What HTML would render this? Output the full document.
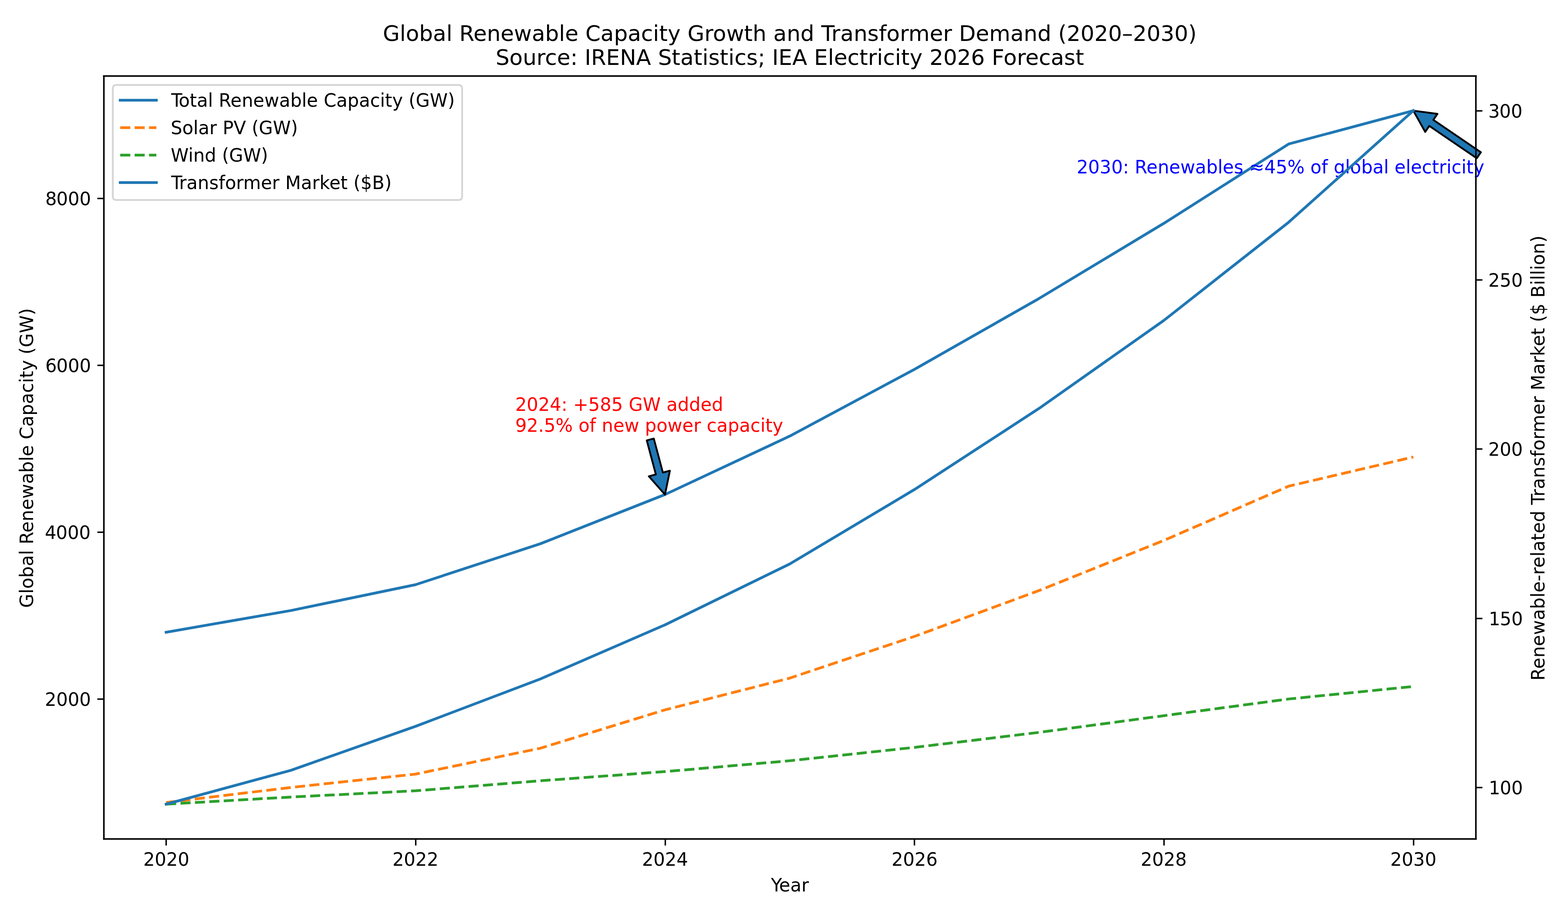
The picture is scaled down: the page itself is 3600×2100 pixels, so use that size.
<!DOCTYPE html>
<html lang="en">
<head>
<meta charset="utf-8">
<title>Global Renewable Capacity Growth and Transformer Demand (2020–2030)</title>
<style>
html, body { margin: 0; padding: 0; background: #ffffff; }
body { width: 3600px; height: 2100px; }
svg { display: block; }
text { font-family: "DejaVu Sans", "Liberation Sans", sans-serif; fill: #000000; font-kerning: normal; font-variant-ligatures: none; text-rendering: auto; }
.t10 { font-size: 41.667px; }
.t12 { font-size: 50px; }
.tick { fill: none; stroke: #000000; stroke-width: 3.333; stroke-linecap: butt; }
.line { fill: none; stroke-width: 6.25; stroke-linejoin: round; }
.solid { stroke-linecap: square; }
.dash { stroke-linecap: butt; stroke-dasharray: 23.125 10; }
.c0 { stroke: #1f77b4; } .c1 { stroke: #ff7f0e; } .c2 { stroke: #2ca02c; }
.arrow { fill: #1f77b4; stroke: #000000; stroke-width: 4.167; stroke-linejoin: round; stroke-linecap: round; }
</style>
</head>
<body>
<svg width="3600" height="2100" viewBox="0 0 3600 2100" role="img" aria-label="Global Renewable Capacity Growth and Transformer Demand (2020–2030)">
<rect width="3600" height="2100" fill="#ffffff"/>
<defs><clipPath id="axclip"><rect x="238.208" y="174.4" width="3149.833" height="1750.767"/></clipPath></defs>
<g id="axis-bottom">
<line class="tick" x1="381.5" y1="1925.5" x2="381.5" y2="1940.5"/>
<line class="tick" x1="954.5" y1="1925.5" x2="954.5" y2="1940.5"/>
<line class="tick" x1="1527.5" y1="1925.5" x2="1527.5" y2="1940.5"/>
<line class="tick" x1="2099.5" y1="1925.5" x2="2099.5" y2="1940.5"/>
<line class="tick" x1="2672.5" y1="1925.5" x2="2672.5" y2="1940.5"/>
<line class="tick" x1="3245.5" y1="1925.5" x2="3245.5" y2="1940.5"/>
<text id="xt0" class="t10" x="329 355.375 381.875 408.25" y="0" transform="translate(0 1987) scale(1 1.02)">2020</text>
<text id="xt1" class="t10" x="901 927.375 953.875 980.25" y="0" transform="translate(0 1987) scale(1 1.02)">2022</text>
<text id="xt2" class="t10" x="1474 1500.375 1526.875 1553.25" y="0" transform="translate(0 1987) scale(1 1.02)">2024</text>
<text id="xt3" class="t10" x="2047 2073.375 2099.875 2126.25" y="0" transform="translate(0 1987) scale(1 1.02)">2026</text>
<text id="xt4" class="t10" x="2619 2645.375 2671.875 2698.25" y="0" transform="translate(0 1987) scale(1 1.02)">2028</text>
<text id="xt5" class="t10" x="3192 3218.375 3244.875 3271.5" y="0" transform="translate(0 1987) scale(1 1.02)">2030</text>
<text id="xlabel" class="t10" x="1770 1788.875 1814.5 1840" y="0" transform="translate(0 2046) scale(1 1.02)">Year</text>
</g>
<g id="axis-left">
<line class="tick" x1="223.5" y1="1604.5" x2="238.5" y2="1604.5"/>
<line class="tick" x1="223.5" y1="1221.5" x2="238.5" y2="1221.5"/>
<line class="tick" x1="223.5" y1="838.5" x2="238.5" y2="838.5"/>
<line class="tick" x1="223.5" y1="455.5" x2="238.5" y2="455.5"/>
<text id="yl0" class="t10" x="103 129.375 155.875 182.375" y="0" transform="translate(0 1620) scale(1 1.02)">2000</text>
<text id="yl1" class="t10" x="103 128.5 155 181.5" y="0" transform="translate(0 1237) scale(1 1.02)">4000</text>
<text id="yl2" class="t10" x="104 129.5 156 182.5" y="0" transform="translate(0 854) scale(1 1.02)">6000</text>
<text id="yl3" class="t10" x="104 129.625 156.125 182.625" y="0" transform="translate(0 471) scale(1 1.02)">8000</text>
<text id="ylabel" class="t10" x="0 32.25 43.75 69.125 95.5 121 132.5 145.75 172.875 198.5 224.875 250.5 284.5 310 336.375 347.875 373.5 386.75 415.875 441.375 467.75 493.25 516.125 527.625 544 568.625 581.875 598.125 630.375 671.5" y="0" transform="translate(76 1395) rotate(-90) scale(1 1.02)">Global Renewable Capacity (GW)</text>
</g>
<g id="series-primary" clip-path="url(#axclip)">
<polyline class="line solid c0" points="381.383,1451.037 667.731,1401.239 954.08,1341.865 1240.428,1248.016 1526.777,1135.014 1813.125,1000.943 2099.473,847.72 2385.822,684.921 2672.17,512.544 2958.519,330.592 3244.867,253.98"/>
<polyline class="line dash c1" points="381.383,1841.756 667.731,1807.281 954.08,1776.636 1240.428,1717.262 1526.777,1629.159 1813.125,1556.378 2099.473,1460.613 2385.822,1355.272 2672.17,1240.355 2958.519,1115.861 3244.867,1048.826"/>
<polyline class="line dash c2" points="381.383,1845.586 667.731,1829.306 954.08,1814.942 1240.428,1791.958 1526.777,1770.89 1813.125,1745.991 2099.473,1715.347 2385.822,1680.871 2672.17,1642.566 2958.519,1604.26 3244.867,1575.53"/>
</g>
<g class="spines" fill="#000000"><rect x="236.833" y="172.833" width="3.333" height="1754.333"/><rect x="3386.833" y="172.833" width="3.333" height="1754.333"/><rect x="236.833" y="1923.833" width="3153.333" height="3.333"/><rect x="236.833" y="172.833" width="3153.333" height="3.333"/></g>
<g id="annotations">
<path class="arrow" d="M1501.063 1006.552 Q1511.489 1045.556 1521.915 1084.559 L1538.016 1080.255 Q1532.396 1107.634 1526.777 1135.014 Q1508.244 1114.09 1489.712 1093.167 L1505.814 1088.863 Q1495.388 1049.86 1484.961 1010.856 L1501.063 1006.552 Z"/>
<text id="ann1a" class="t10" x="1183 1209.375 1235.875 1262.25 1288.75 1302.75 1316 1350.75 1377.25 1403.875 1430.375 1443.625 1475.875 1517 1530.25 1555.75 1582.125 1608.5 1634.125" y="0" style="fill:#ff0000" transform="translate(0 943) scale(1 1.02)">2024: +585 GW added</text>
<text id="ann1b" class="t10" x="1183 1209.375 1235.75 1249 1275.5 1315 1328.25 1353.625 1368.375 1381.625 1408 1433.625 1467.625 1480.875 1507.25 1532.625 1566.625 1592.25 1609.375 1622.625 1645.5 1671 1697.375 1722.875 1745.75 1757.25 1773.625" y="0" style="fill:#ff0000" transform="translate(0 991) scale(1 1.02)">92.5% of new power capacity</text>
<path class="arrow" d="M3390.662 363.186 Q3336.095 326.085 3281.528 288.984 L3272.157 302.767 Q3258.512 278.374 3244.867 253.98 Q3272.569 257.7 3300.271 261.419 L3290.9 275.202 Q3345.466 312.303 3400.033 349.404 L3390.662 363.186 Z"/>
<text id="ann2" class="t10" x="2472 2498.375 2524.875 2551.5 2578 2592 2605.25 2632.375 2658 2684.375 2710 2744 2769.5 2795.875 2807.375 2833 2854.75 2868 2902.875 2929.375 2955.875 2995.375 3008.625 3034 3048.75 3062 3088.375 3099.875 3125.25 3151.625 3177.125 3188.625 3201.875 3227.5 3239 3264.625 3287.5 3303.875 3321 3332.5 3355.375 3366.875 3383.25" y="0" style="fill:#0000ff" transform="translate(0 398) scale(1 1.02)">2030: Renewables ≈45% of global electricity</text>
</g>
<g id="legend">
<path d="M267 459 L1053 459 Q1061 459 1061 451 L1061 204 Q1061 195 1053 195 L267 195 Q259 195 259 204 L259 451 Q259 459 267 459 Z" fill="#ffffff" fill-opacity="0.8"/>
<g fill="none" stroke="#cccccc" stroke-opacity="0.8" stroke-width="4.167">
<path d="M1053 459 Q1061 459 1061 451 L1061 204 Q1061 195 1053 195"/>
<path d="M267 195 Q259 195 259 204 L259 451 Q259 459 267 459"/>
</g>
<g fill="#cccccc" fill-opacity="0.8">
<rect x="267" y="192.917" width="786" height="4.167"/>
<rect x="267" y="456.917" width="786" height="4.167"/>
</g>
<line class="c0" x1="272.875" y1="230" x2="362.125" y2="230" stroke-width="8" stroke-opacity="0.125"/>
<line class="c0" x1="272.875" y1="230" x2="362.125" y2="230" stroke-width="6"/>
<text id="lg0" class="t10" x="393 410.25 435.625 452 477.5 489 502.25 529.375 555 581.375 607 641 666.5 692.875 704.375 730 743.25 772.375 797.875 824.25 849.75 872.625 884.125 900.5 925.125 938.375 954.625 986.875 1028" y="0" transform="translate(0 245) scale(1 1.02)">Total Renewable Capacity (GW)</text>
<line class="c1" x1="276" y1="293" x2="359" y2="293" stroke-width="8" stroke-opacity="0.125" stroke-dasharray="23.125 10"/>
<line class="c1" x1="276" y1="293" x2="359" y2="293" stroke-width="6" stroke-dasharray="23.125 10"/>
<text id="lg1" class="t10" x="392 418.5 443.875 455.375 480.875 498 511.25 536.375 564.875 578.125 594.375 626.625 667.75" y="0" transform="translate(0 308) scale(1 1.02)">Solar PV (GW)</text>
<line class="c2" x1="276" y1="356" x2="359" y2="356" stroke-width="8" stroke-opacity="0.125" stroke-dasharray="23.125 10"/>
<line class="c2" x1="276" y1="356" x2="359" y2="356" stroke-width="6" stroke-dasharray="23.125 10"/>
<text id="lg2" class="t10" x="392 432.25 443.75 470.125 496.5 509.75 526 558.25 599.375" y="0" transform="translate(0 371) scale(1 1.02)">Wind (GW)</text>
<line class="c0" x1="272.875" y1="419" x2="362.125" y2="419" stroke-width="8" stroke-opacity="0.125"/>
<line class="c0" x1="272.875" y1="419" x2="362.125" y2="419" stroke-width="6"/>
<text id="lg3" class="t10" x="393 411.25 428.375 453.875 480.25 502 516.75 542.125 558.5 599 624.625 641.75 655 691 716.5 733.625 756.25 781.875 798.25 811.5 827.75 854.375 883" y="0" transform="translate(0 434) scale(1 1.02)">Transformer Market ($B)</text>
</g>
<g id="axis-right">
<line class="tick" x1="3388.5" y1="1807.5" x2="3403.5" y2="1807.5"/>
<line class="tick" x1="3388.5" y1="1419.5" x2="3403.5" y2="1419.5"/>
<line class="tick" x1="3388.5" y1="1030.5" x2="3403.5" y2="1030.5"/>
<line class="tick" x1="3388.5" y1="642.5" x2="3403.5" y2="642.5"/>
<line class="tick" x1="3388.5" y1="254.5" x2="3403.5" y2="254.5"/>
<text id="yr0" class="t10" x="3418 3443.5 3470" y="0" transform="translate(0 1823) scale(1 1.02)">100</text>
<text id="yr1" class="t10" x="3418 3443.5 3470" y="0" transform="translate(0 1435) scale(1 1.02)">150</text>
<text id="yr2" class="t10" x="3417 3443.375 3469.875" y="0" transform="translate(0 1046) scale(1 1.02)">200</text>
<text id="yr3" class="t10" x="3417 3443.375 3469.875" y="0" transform="translate(0 658) scale(1 1.02)">250</text>
<text id="yr4" class="t10" x="3417 3442.625 3469.125" y="0" transform="translate(0 270) scale(1 1.02)">300</text>
<text id="y2label" class="t10" x="0 27.125 52.75 79.125 104.75 138.75 164.25 190.625 202.125 227.75 242.75 259 284.625 296.125 321.625 338 363.625 390 403.25 422.5 439.625 465.125 491.5 513.25 528 553.375 569.75 610.25 635.875 653 666.25 702.25 727.75 744.875 767.5 793.125 809.5 822.75 839 865.625 878.875 907.5 919 930.5 942 953.5 978.875 1005.25" y="0" transform="translate(3546 1562) rotate(-90) scale(1 1.02)">Renewable-related Transformer Market ($ Billion)</text>
</g>
<g id="series-secondary" clip-path="url(#axclip)">
<polyline class="line solid c0" points="381.383,1845.586 667.731,1767.947 954.08,1667.016 1240.428,1558.321 1526.777,1434.098 1813.125,1294.347 2099.473,1123.541 2385.822,937.206 2672.17,735.344 2958.519,510.19 3244.867,253.98"/>
</g>
<g class="spines" fill="#000000"><rect x="236.833" y="172.833" width="3.333" height="1754.333"/><rect x="3386.833" y="172.833" width="3.333" height="1754.333"/><rect x="236.833" y="1923.833" width="3153.333" height="3.333"/><rect x="236.833" y="172.833" width="3153.333" height="3.333"/></g>
<g id="title">
<text id="title1" class="t12" x="879 917.75 931.75 962.375 994.125 1024.75 1038.75 1054.625 1087 1117.75 1149.375 1180.125 1221 1251.625 1283.375 1297.375 1328.125 1344 1378.875 1409.5 1441.25 1471.875 1499.375 1513.375 1533.125 1562.75 1578.625 1617.375 1636.875 1667.5 1708.375 1728.125 1759.75 1775.625 1806.25 1837.875 1869.625 1885.5 1908.75 1929.375 1960 1991.625 2017.75 2035.375 2066 2085.75 2134.5 2165.25 2185.875 2201.75 2240.25 2271 2319.75 2350.375 2382 2413.75 2429.625 2449 2480.75 2512.5 2544.25 2576 2601.125 2632.875 2664.625 2696.375 2728.125" y="0" transform="translate(0 94) scale(1 0.995)">Global Renewable Capacity Growth and Transformer Demand (2020–2030)</text>
<text id="title2" class="t12" x="1138 1169.625 1200.25 1231.875 1251.375 1278.875 1309.625 1326.5 1342.375 1357 1391.625 1423.25 1460.625 1494.875 1510.75 1542.375 1562.125 1592.75 1612.5 1626.5 1652.625 1672.375 1686.375 1713.875 1740 1756.875 1772.75 1787.375 1819 1853.25 1869.125 1900.75 1914.75 1945.5 1973 1992.75 2013.375 2027.375 2054.875 2068.875 2088.625 2118.25 2134.125 2165.875 2197.625 2229.375 2261.25 2277.125 2304.125 2334.75 2354.25 2385 2412.5 2443.125 2469.25" y="0" transform="translate(0 149) scale(1 0.995)">Source: IRENA Statistics; IEA Electricity 2026 Forecast</text>
</g>
</svg>
</body>
</html>
